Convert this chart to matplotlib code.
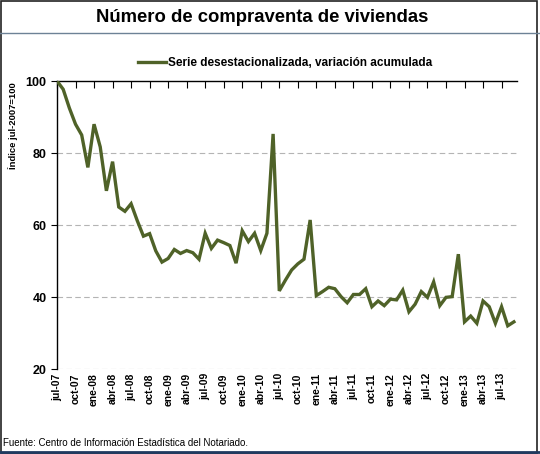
import matplotlib
matplotlib.use("Agg")
from matplotlib import pyplot as plt
from matplotlib.lines import Line2D
from matplotlib.patches import Rectangle

plt.rcParams['font.family'] = ['Liberation Sans', 'DejaVu Sans']

# quarterly tick labels (data is monthly, jul-07 .. sep-13)
tick_labels = ["jul-07", "oct-07", "ene-08", "abr-08", "jul-08", "oct-08",
               "ene-09", "abr-09", "jul-09", "oct-09", "ene-10", "abr-10",
               "jul-10", "oct-10", "ene-11", "abr-11", "jul-11", "oct-11",
               "ene-12", "abr-12", "jul-12", "oct-12", "ene-13", "abr-13",
               "jul-13"]

# indice jul-2007 = 100, serie desestacionalizada
serie = [100, 97.7, 92.5, 88.0, 85.0, 76.0, 88.0, 81.7, 69.5, 77.6,
         65.0, 63.8, 65.9, 61.2, 56.9, 57.6, 52.8, 49.7, 50.7, 53.2,
         52.1, 52.9, 52.3, 50.5, 57.7, 53.5, 55.8, 55.1, 54.3, 49.4,
         58.4, 55.4, 57.7, 52.9, 57.7, 85.3, 41.7, 44.7, 47.5, 49.2,
         50.5, 61.4, 40.4, 41.5, 42.7, 42.3, 40.1, 38.4, 40.7, 40.7,
         42.3, 37.3, 38.9, 37.6, 39.4, 39.2, 41.9, 35.9, 38.0, 41.5,
         39.9, 44.2, 37.6, 39.9, 40.1, 51.9, 33.1, 34.7, 32.7, 38.9,
         37.3, 32.7, 37.3, 32.0, 33.1]

months = list(range(len(serie)))

fig = plt.figure(figsize=(5.4, 4.54), dpi=100)
ax = fig.add_axes([57/540, 1-369/454, 460/540, 288/454])

ax.plot(months, serie, color="#4f6228", lw=2.4, solid_joinstyle="miter",
        label="Serie desestacionalizada, variación acumulada", zorder=3)

ax.set_xlim(0, len(serie) - 0.5)
ax.set_ylim(20, 100)
ax.set_yticks([20, 40, 60, 80, 100])
for y in [20, 40, 60, 80]:
    ax.axhline(y, color="#b4b4b4", lw=0.8, ls=(0, (5, 3)), zorder=1)

ax.set_xticks(range(0, 3*len(tick_labels), 3))
ax.set_xticklabels(tick_labels, rotation=90, fontweight="bold", fontsize=7.5)
ax.tick_params(axis="x", top=True, bottom=False, labeltop=False,
               labelbottom=True, direction="in", length=5, pad=3)
ax.tick_params(axis="y", direction="out", length=4, labelsize=9)
for lb in ax.get_yticklabels():
    lb.set_fontweight("bold")

for s in ["bottom", "right"]:
    ax.spines[s].set_visible(False)
ax.spines["left"].set_linewidth(1.0)
ax.spines["top"].set_linewidth(1.0)

ax.set_ylabel("Índice jul-2007=100", fontsize=6.8, fontweight="bold")
ax.yaxis.set_label_coords(-0.085, 0.845)

ax.legend(loc="center", bbox_to_anchor=(285/540, 1-63/454),
          bbox_transform=fig.transFigure, frameon=False, handlelength=2.4,
          handletextpad=0.2, prop={"weight": "bold", "size": 8.5})

fig.text(262/540, 1-17/454, "Número de compraventa de viviendas",
         ha="center", va="center", fontsize=13.3, fontweight="bold")

fig.text(3/540, 1-443/454,
         "Fuente: Centro de Información Estadística del Notariado.",
         ha="left", va="center", fontsize=7)

# frame + separators
fig.patches.append(Rectangle((0.001, 0.002), 0.994, 0.996, transform=fig.transFigure,
                             fill=False, edgecolor="#222222", lw=1.2))
fig.lines.append(Line2D([0, 1], [1-33/454, 1-33/454], transform=fig.transFigure,
                        color="#6d8296", lw=1.0))
fig.lines.append(Line2D([0, 1], [0.004, 0.004], transform=fig.transFigure,
                        color="#1f3a60", lw=2.0))

fig.savefig("out.png", dpi=100)
